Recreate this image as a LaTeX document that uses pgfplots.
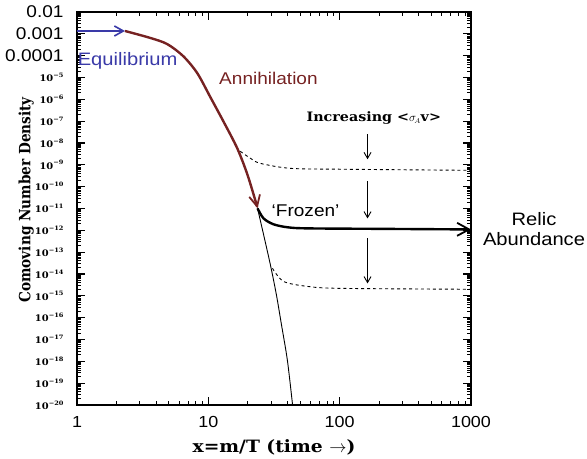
\documentclass[border=0pt]{standalone}
\usepackage{fontspec}
\usepackage{pgfplots}
\pgfplotsset{compat=1.18}
\usetikzlibrary{arrows.meta}
\setmainfont{Liberation Sans}
\newfontfamily\sans{Liberation Sans}[FakeStretch=1.12]
\newfontfamily\serifh{DejaVu Serif}[FakeStretch=1.1]
\newfontfamily\serifv{DejaVu Serif}[FakeStretch=0.88]
\definecolor{eqblue}{RGB}{58,58,168}
\definecolor{annred}{RGB}{118,34,34}
% small y tick label 10^-n
\newcommand{\yl}[1]{{\serifh\bfseries\fontsize{9bp}{9bp}\selectfont 10\raisebox{0.45em}{\fontsize{6bp}{6bp}\selectfont −#1}}}
\newcommand{\yb}[1]{{\sans\fontsize{17bp}{17bp}\selectfont #1}}
% minor ticks, 2..9 in every decade
\def\minylist{2e-20}
\foreach \e in {-20,...,-3}{\foreach \m in {2,...,9}{\xdef\minylist{\minylist,\m e\e}}}

\begin{document}
\begin{tikzpicture}
  \begin{axis}[
    scale only axis,
    width=394bp, height=393bp,
    xmode=log, ymode=log,
    xmin=1, xmax=1000, ymin=1e-20, ymax=1e-2,
    xtick={1,10,100,1000},
    xticklabels={1,10,100,1000},
    minor xtick={2,3,4,5,6,7,8,9,20,30,40,50,60,70,80,90,200,300,400,500,600,700,800,900},
    ytick={1e-20,1e-19,1e-18,1e-17,1e-16,1e-15,1e-14,1e-13,1e-12,1e-11,
           1e-10,1e-9,1e-8,1e-7,1e-6,1e-5,1e-4,1e-3,1e-2},
    yticklabels={\yl{20},\yl{19},\yl{18},\yl{17},\yl{16},\yl{15},\yl{14},\yl{13},\yl{12},\yl{11},
                 \yl{10},\yl{9},\yl{8},\yl{7},\yl{6},\yl{5},\yb{0.0001},\yb{0.001},\yb{0.01}},
    minor ytick/.expanded={\minylist},
    tickwidth=8bp, subtickwidth=4bp,
    tick style={draw=black, line width=1.1bp},
    minor tick style={draw=black, line width=0.8bp},
    axis line style={line width=1.3bp},
    xticklabel style={font=\sans\fontsize{16bp}{16bp}\selectfont, yshift=-8bp},
    yticklabel style={xshift=-10bp},
    xlabel={\serifh\bfseries\fontsize{17bp}{17bp}\selectfont x=m/T (time $\rightarrow$)},
    ylabel={\serifv\bfseries\fontsize{15.5bp}{16bp}\selectfont Comoving Number Density},
    xlabel style={at={(axis description cs:0.5,-0.109)}, anchor=center},
    ylabel style={at={(axis description cs:-0.129,0.522)}, anchor=center},
    clip mode=individual,
  ]
    % equilibrium arrow
    \addplot[eqblue, line width=2bp, -{Straight Barb[length=9bp,width=10bp,line width=1.6bp]}]
      coordinates {(1,1.35e-3) (2.32,1.35e-3)};
    % annihilation (follows equilibrium)
    \addplot[annred, line width=2.4bp, smooth, tension=0.5, -{Straight Barb[length=11bp,width=11bp,line width=1.8bp]}]
      coordinates {
        (2.32,1.35e-3) (3.61,6.5e-4) (4.86,3.4e-4) (6.44,9.5e-5) (8.24,1.58e-5)
        (10.36,1.26e-6) (13.0,1.0e-7) (16.6,5.75e-9) (19.8,3.72e-10)
        (22.9,2.14e-11) (23.7,1.02e-11)
      };
    % equilibrium continued (thin)
    \addplot[black, line width=0.9bp, smooth]
      coordinates {
        (23.7,1.0e-11) (26,9e-13) (29.7,2.6e-14) (33,1.1e-15) (36,5e-17)
        (40,1.1e-18) (43.8,1e-20)
      };
    % upper dashed (smaller cross section)
    \addplot[black, line width=0.9bp, dashed, smooth]
      coordinates {
        (17.5,4.17e-9) (20.9,2.0e-9) (24.9,1.17e-9) (42.3,6.9e-10)
        (102,6.3e-10) (1000,5.6e-10)
      };
    % frozen relic abundance
    \addplot[black, line width=2.4bp, smooth, -{Straight Barb[length=12bp,width=13bp,line width=1.8bp]}]
      coordinates {
        (23.7,1.02e-11) (26.3,3.55e-12) (31.3,1.9e-12) (40.1,1.38e-12)
        (57,1.23e-12) (200,1.17e-12) (1000,1.1e-12)
      };
    % lower dashed (larger cross section)
    \addplot[black, line width=0.9bp, dashed, smooth]
      coordinates {
        (30.8,1.82e-14) (37.4,4.57e-15) (57,2.7e-15) (102,2.2e-15) (1000,2.0e-15)
      };
    % increasing cross section arrows
    \addplot[black, line width=0.9bp, -{Straight Barb[length=6bp,width=7bp]}]
      coordinates {(163,2.5e-8) (163,1.8e-9)};
    \addplot[black, line width=0.9bp, -{Straight Barb[length=6bp,width=7bp]}]
      coordinates {(163,1.8e-10) (163,3.5e-12)};
    \addplot[black, line width=0.9bp, -{Straight Barb[length=6bp,width=7bp]}]
      coordinates {(163,4.3e-13) (163,3.7e-15)};

    \node[anchor=west, text=eqblue, font=\sans\fontsize{18bp}{18bp}\selectfont, inner sep=0pt]
      at (axis cs:1.01,5.6e-5) {Equilibrium};
    \node[text=annred, font=\sans\fontsize{17bp}{17bp}\selectfont]
      at (axis cs:28.7,9.3e-6) {Annihilation};
    \node[font=\sans\fontsize{17bp}{17bp}\selectfont]
      at (axis cs:55,8.3e-12) {‘Frozen’};
    \node[font=\serifh\bfseries\fontsize{13bp}{13bp}\selectfont]
      at (axis cs:182,1.38e-7) {Increasing <$\sigma_{\!\scriptscriptstyle A}$v>};
    \node[font=\sans\fontsize{18bp}{20bp}\selectfont, align=center]
      at (axis cs:3020,1.1e-12) {Relic\\Abundance};
  \end{axis}
  \pgfresetboundingbox
  \path (-77bp,-54bp) rectangle (510bp,405bp);
\end{tikzpicture}
\end{document}
